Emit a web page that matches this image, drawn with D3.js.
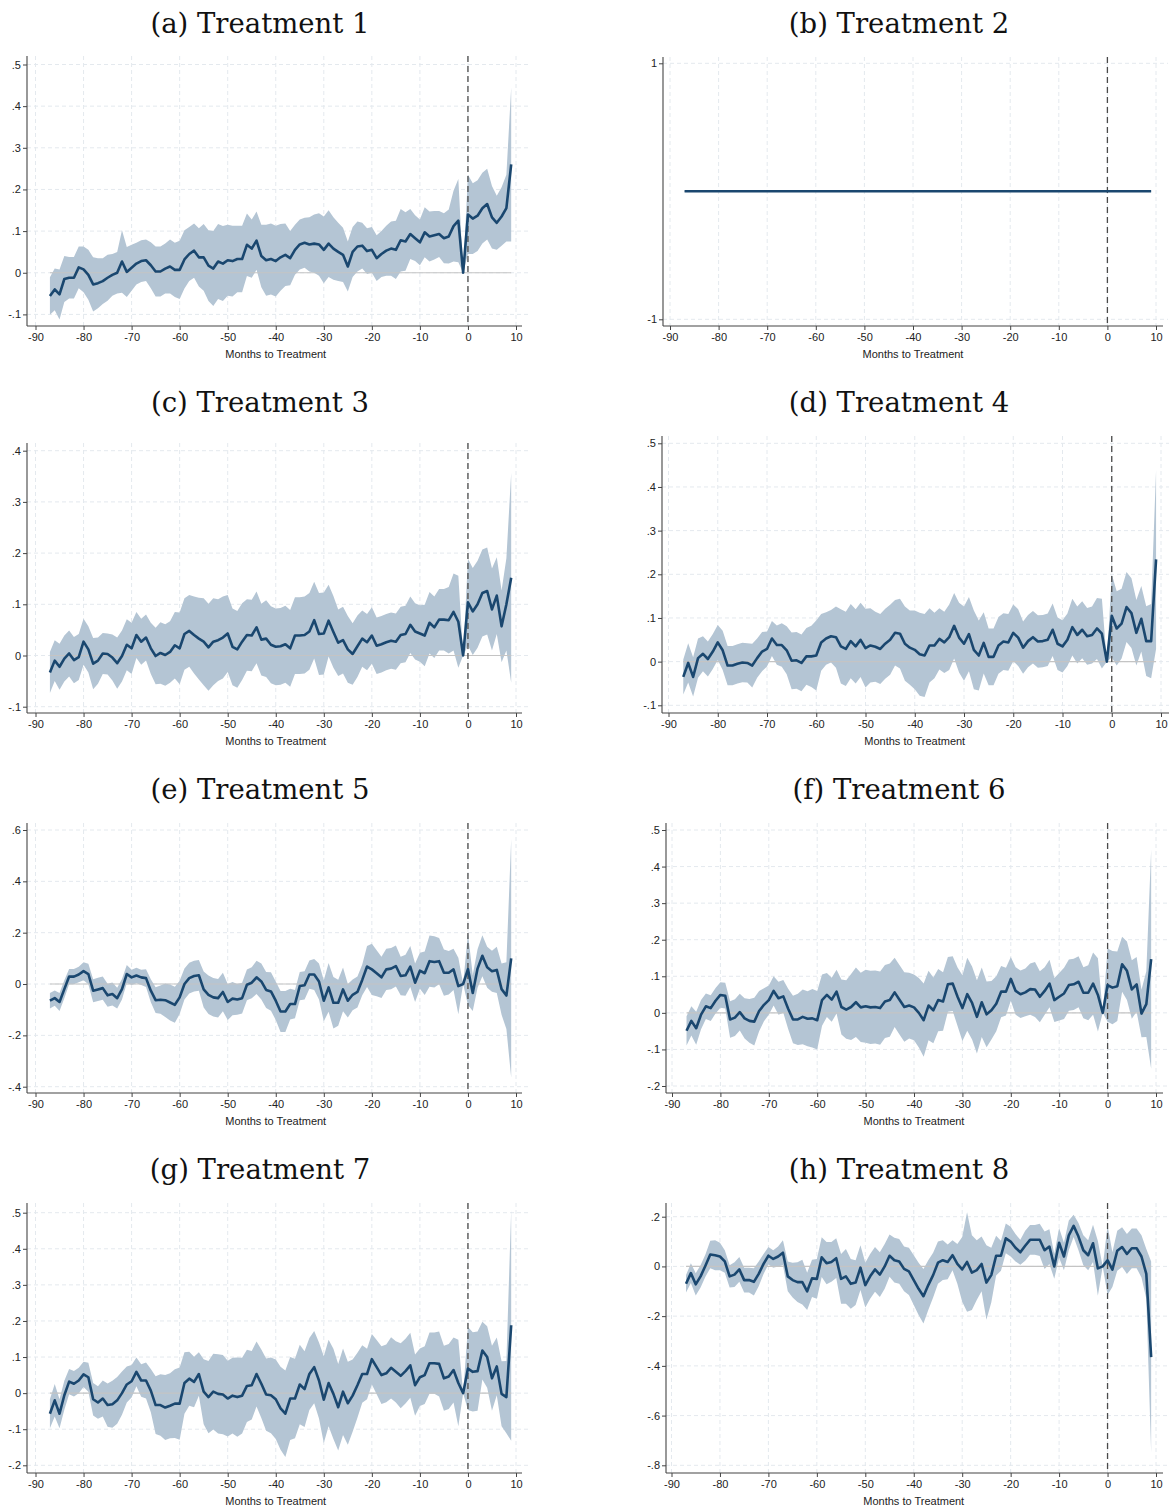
<!DOCTYPE html>
<html><head><meta charset="utf-8">
<script src="https://cdn.jsdelivr.net/npm/d3@7"></script>
<style>
html,body{margin:0;padding:0;background:#fff;}
svg text{font-family:"Liberation Sans",Arial,sans-serif;}
</style></head>
<body>
<svg id="chart" width="1169" height="1509"></svg>
<script>
// ---------- DATA ----------
const months = [-87,-86,-85,-84,-83,-82,-81,-80,-79,-78,-77,-76,-75,-74,-73,-72,-71,-70,-69,-68,
-67,-66,-65,-64,-63,-62,-61,-60,-59,-58,-57,-56,-55,-54,-53,-52,-51,-50,-49,-48,
-47,-46,-45,-44,-43,-42,-41,-40,-39,-38,-37,-36,-35,-34,-33,-32,-31,-30,-29,-28,
-27,-26,-25,-24,-23,-22,-21,-20,-19,-18,-17,-16,-15,-14,-13,-12,-11,-10,-9,-8,
-7,-6,-5,-4,-3,-2,-1,0,1,2,3,4,5,6,7,8,9];
const xTicks = [-90,-80,-70,-60,-50,-40,-30,-20,-10,0,10];
const xTitle = "Months to Treatment";
const titles = ["(a) Treatment 1","(b) Treatment 2","(c) Treatment 3","(d) Treatment 4",
                "(e) Treatment 5","(f) Treatment 6","(g) Treatment 7","(h) Treatment 8"];

const estA = [-0.056,-0.040,-0.052,-0.015,-0.012,-0.012,0.013,0.008,-0.005,-0.028,
-0.025,-0.020,-0.012,-0.005,0.000,0.027,0.002,0.012,0.022,0.028,
0.030,0.018,0.003,0.003,0.010,0.015,0.007,0.007,0.032,0.045,
0.053,0.037,0.037,0.017,0.010,0.027,0.022,0.030,0.028,0.033,
0.033,0.067,0.058,0.077,0.040,0.030,0.033,0.028,0.037,0.043,
0.035,0.055,0.068,0.072,0.068,0.070,0.068,0.055,0.070,0.058,
0.050,0.043,0.015,0.050,0.063,0.065,0.052,0.055,0.035,0.045,
0.053,0.058,0.055,0.078,0.075,0.093,0.083,0.073,0.097,0.087,
0.090,0.093,0.083,0.087,0.112,0.125,0.000,0.140,0.130,0.137,
0.155,0.165,0.133,0.120,0.135,0.155,0.260];
const ciA = [0.045,0.050,0.060,0.055,0.050,0.050,0.050,0.055,0.060,0.065,
0.060,0.055,0.055,0.050,0.050,0.075,0.060,0.055,0.050,0.050,
0.050,0.055,0.060,0.060,0.060,0.065,0.065,0.070,0.070,0.065,
0.065,0.070,0.080,0.085,0.090,0.090,0.090,0.085,0.085,0.080,
0.080,0.075,0.070,0.070,0.075,0.085,0.085,0.085,0.080,0.075,
0.065,0.060,0.060,0.060,0.065,0.070,0.075,0.080,0.080,0.075,
0.070,0.065,0.060,0.060,0.060,0.055,0.055,0.055,0.055,0.055,
0.060,0.065,0.070,0.075,0.070,0.060,0.055,0.055,0.060,0.060,
0.058,0.055,0.060,0.065,0.085,0.100,0.000,0.095,0.085,0.085,
0.085,0.085,0.075,0.065,0.070,0.080,0.185];

const estB = [0,0,0,0,0,0,0,0,0,0, 0,0,0,0,0,0,0,0,0,0, 0,0,0,0,0,0,0,0,0,0,
0,0,0,0,0,0,0,0,0,0, 0,0,0,0,0,0,0,0,0,0, 0,0,0,0,0,0,0,0,0,0,
0,0,0,0,0,0,0,0,0,0, 0,0,0,0,0,0,0,0,0,0, 0,0,0,0,0,0,0,0,0,0, 0,0,0,0,0,0,0];
const ciB = [0,0,0,0,0,0,0,0,0,0, 0,0,0,0,0,0,0,0,0,0, 0,0,0,0,0,0,0,0,0,0,
0,0,0,0,0,0,0,0,0,0, 0,0,0,0,0,0,0,0,0,0, 0,0,0,0,0,0,0,0,0,0,
0,0,0,0,0,0,0,0,0,0, 0,0,0,0,0,0,0,0,0,0, 0,0,0,0,0,0,0,0,0,0, 0,0,0,0,0,0,0];

const estC = [-0.033,-0.010,-0.022,-0.006,0.004,-0.009,-0.003,0.027,0.012,-0.016,
-0.010,0.004,0.003,-0.004,-0.015,-0.001,0.021,0.014,0.040,0.027,
0.035,0.014,-0.001,0.005,0.001,0.007,0.020,0.014,0.042,0.048,
0.040,0.033,0.027,0.016,0.027,0.030,0.035,0.043,0.017,0.012,
0.027,0.040,0.039,0.055,0.031,0.033,0.021,0.017,0.018,0.022,
0.014,0.039,0.039,0.040,0.047,0.069,0.042,0.043,0.068,0.046,
0.025,0.030,0.012,0.003,0.018,0.033,0.026,0.039,0.019,0.022,
0.026,0.029,0.027,0.040,0.042,0.060,0.047,0.043,0.039,0.064,
0.055,0.070,0.070,0.069,0.085,0.066,0.000,0.104,0.086,0.100,
0.122,0.126,0.090,0.117,0.057,0.100,0.152];
const ciC = [0.040,0.040,0.045,0.045,0.045,0.045,0.045,0.045,0.045,0.050,
0.045,0.040,0.040,0.045,0.050,0.050,0.050,0.050,0.045,0.045,
0.045,0.050,0.055,0.060,0.060,0.060,0.065,0.070,0.070,0.070,
0.075,0.080,0.085,0.085,0.085,0.080,0.080,0.075,0.075,0.075,
0.075,0.070,0.070,0.070,0.070,0.075,0.075,0.075,0.075,0.075,
0.075,0.075,0.075,0.075,0.075,0.075,0.080,0.080,0.070,0.070,
0.065,0.065,0.065,0.060,0.060,0.055,0.055,0.055,0.055,0.055,
0.055,0.055,0.055,0.055,0.055,0.055,0.055,0.055,0.060,0.060,
0.060,0.060,0.060,0.065,0.075,0.090,0.000,0.085,0.085,0.085,
0.085,0.085,0.080,0.075,0.070,0.090,0.205];

const estD = [-0.035,-0.003,-0.035,0.008,0.018,0.006,0.023,0.044,0.026,-0.009,
-0.009,-0.005,-0.002,-0.003,-0.009,0.008,0.023,0.029,0.053,0.038,
0.038,0.026,0.002,0.003,-0.003,0.012,0.012,0.014,0.044,0.053,
0.058,0.056,0.035,0.029,0.047,0.035,0.050,0.031,0.037,0.034,
0.029,0.041,0.050,0.066,0.064,0.041,0.032,0.027,0.017,0.014,
0.037,0.037,0.052,0.044,0.056,0.082,0.055,0.041,0.063,0.027,
0.014,0.043,0.011,0.011,0.037,0.046,0.044,0.066,0.055,0.032,
0.047,0.056,0.046,0.047,0.050,0.073,0.041,0.035,0.050,0.079,
0.061,0.073,0.058,0.061,0.076,0.064,0.000,0.105,0.076,0.087,
0.125,0.111,0.066,0.098,0.047,0.047,0.234];
const ciD = [0.040,0.045,0.045,0.045,0.040,0.040,0.040,0.040,0.045,0.045,
0.045,0.045,0.045,0.045,0.050,0.045,0.045,0.040,0.040,0.045,
0.050,0.055,0.065,0.065,0.065,0.065,0.070,0.080,0.065,0.060,
0.060,0.070,0.085,0.085,0.085,0.085,0.085,0.090,0.085,0.080,
0.080,0.080,0.080,0.075,0.080,0.085,0.085,0.090,0.095,0.095,
0.085,0.075,0.070,0.070,0.075,0.075,0.080,0.085,0.085,0.090,
0.080,0.070,0.065,0.065,0.065,0.065,0.065,0.065,0.065,0.060,
0.060,0.060,0.060,0.060,0.060,0.060,0.060,0.060,0.060,0.065,
0.065,0.065,0.065,0.065,0.070,0.080,0.000,0.095,0.085,0.080,
0.080,0.080,0.075,0.075,0.080,0.085,0.205];

const estE = [-0.065,-0.055,-0.070,-0.020,0.029,0.029,0.037,0.050,0.039,-0.026,
-0.021,-0.016,-0.044,-0.039,-0.055,-0.020,0.039,0.026,0.033,0.026,
0.023,-0.026,-0.063,-0.061,-0.063,-0.072,-0.081,-0.052,0.000,0.023,
0.031,0.034,-0.021,-0.042,-0.052,-0.055,-0.031,-0.070,-0.057,-0.060,
-0.055,-0.003,0.005,0.026,0.010,-0.023,-0.029,-0.065,-0.107,-0.107,
-0.078,-0.078,-0.008,-0.005,0.037,0.037,0.010,-0.065,-0.013,-0.073,
-0.073,-0.021,-0.065,-0.042,-0.031,0.016,0.068,0.057,0.042,0.026,
0.057,0.060,0.070,0.031,0.034,0.068,0.005,0.052,0.042,0.089,
0.086,0.089,0.044,0.044,0.057,-0.008,0.000,0.058,-0.035,0.060,
0.110,0.065,0.050,0.055,-0.020,-0.045,0.100];
const ciE = [0.030,0.030,0.035,0.035,0.030,0.030,0.030,0.035,0.040,0.045,
0.045,0.045,0.045,0.045,0.040,0.040,0.035,0.030,0.030,0.030,
0.035,0.045,0.050,0.055,0.065,0.070,0.070,0.065,0.060,0.060,
0.060,0.060,0.070,0.075,0.075,0.075,0.075,0.070,0.065,0.060,
0.060,0.060,0.060,0.065,0.070,0.070,0.075,0.075,0.080,0.080,
0.060,0.055,0.055,0.055,0.055,0.060,0.070,0.080,0.095,0.100,
0.090,0.085,0.065,0.060,0.060,0.060,0.080,0.100,0.090,0.080,
0.080,0.080,0.080,0.075,0.080,0.080,0.075,0.070,0.085,0.100,
0.100,0.090,0.090,0.085,0.080,0.110,0.000,0.140,0.070,0.075,
0.080,0.080,0.080,0.090,0.100,0.130,0.465];

const estF = [-0.049,-0.022,-0.042,-0.005,0.018,0.013,0.033,0.049,0.047,-0.018,
-0.013,0.002,-0.015,-0.022,-0.024,0.005,0.022,0.035,0.060,0.040,
0.045,0.011,-0.018,-0.018,-0.011,-0.016,-0.015,-0.020,0.035,0.049,
0.036,0.058,0.016,0.009,0.016,0.029,0.015,0.018,0.015,0.016,
0.013,0.031,0.035,0.056,0.036,0.016,0.020,0.015,0.000,-0.020,
0.020,0.007,0.035,0.031,0.078,0.080,0.044,0.013,0.051,0.027,
-0.011,0.029,-0.004,0.007,0.025,0.058,0.058,0.093,0.060,0.051,
0.056,0.065,0.064,0.044,0.060,0.080,0.035,0.044,0.053,0.076,
0.078,0.085,0.055,0.055,0.080,0.049,0.000,0.076,0.069,0.073,
0.133,0.115,0.064,0.078,-0.002,0.024,0.147];
const ciF = [0.040,0.040,0.045,0.040,0.035,0.035,0.035,0.035,0.035,0.050,
0.050,0.050,0.055,0.060,0.065,0.055,0.045,0.040,0.040,0.045,
0.045,0.055,0.065,0.070,0.075,0.075,0.080,0.080,0.070,0.060,
0.060,0.060,0.075,0.080,0.090,0.095,0.095,0.100,0.100,0.100,
0.100,0.100,0.100,0.095,0.095,0.095,0.090,0.090,0.095,0.100,
0.095,0.090,0.085,0.080,0.075,0.075,0.080,0.090,0.100,0.100,
0.100,0.095,0.090,0.080,0.075,0.070,0.065,0.060,0.065,0.065,
0.065,0.070,0.075,0.070,0.065,0.065,0.060,0.065,0.070,0.070,
0.070,0.070,0.070,0.075,0.085,0.100,0.000,0.100,0.100,0.095,
0.075,0.080,0.080,0.075,0.065,0.090,0.300];

const estG = [-0.057,-0.020,-0.057,-0.006,0.032,0.026,0.035,0.052,0.044,-0.017,
-0.026,-0.015,-0.033,-0.031,-0.020,0.000,0.024,0.033,0.059,0.035,
0.035,0.007,-0.033,-0.033,-0.040,-0.035,-0.029,-0.029,0.028,0.040,
0.031,0.053,0.004,-0.011,0.004,-0.002,-0.004,-0.015,-0.007,-0.011,
-0.007,0.020,0.022,0.053,0.026,-0.004,-0.006,-0.017,-0.042,-0.057,
-0.015,-0.015,0.024,0.011,0.053,0.072,0.035,-0.018,0.028,-0.002,
-0.039,0.004,-0.028,-0.007,0.022,0.053,0.053,0.094,0.072,0.050,
0.055,0.070,0.059,0.048,0.061,0.077,0.022,0.044,0.050,0.083,
0.083,0.081,0.041,0.046,0.064,0.028,0.000,0.068,0.059,0.061,
0.118,0.100,0.041,0.074,-0.002,-0.011,0.188];
const ciG = [0.040,0.045,0.040,0.040,0.035,0.035,0.035,0.035,0.040,0.045,
0.045,0.050,0.060,0.065,0.065,0.060,0.050,0.045,0.040,0.045,
0.050,0.060,0.080,0.085,0.090,0.090,0.095,0.100,0.085,0.075,
0.070,0.060,0.090,0.100,0.105,0.110,0.110,0.105,0.105,0.110,
0.105,0.100,0.095,0.090,0.095,0.100,0.105,0.110,0.115,0.120,
0.115,0.110,0.110,0.105,0.100,0.100,0.105,0.120,0.120,0.125,
0.120,0.120,0.115,0.100,0.090,0.080,0.070,0.070,0.075,0.080,
0.080,0.085,0.085,0.090,0.090,0.090,0.085,0.080,0.080,0.085,
0.085,0.090,0.090,0.090,0.090,0.120,0.000,0.115,0.110,0.110,
0.080,0.085,0.090,0.080,0.090,0.100,0.320];

const estH = [-0.070,-0.027,-0.072,-0.040,0.003,0.048,0.045,0.040,0.020,-0.040,
-0.033,-0.012,-0.055,-0.055,-0.062,-0.030,0.010,0.043,0.030,0.040,
0.055,-0.040,-0.055,-0.063,-0.063,-0.100,-0.048,-0.050,0.037,0.013,
0.018,0.033,-0.050,-0.040,-0.070,-0.065,-0.005,-0.075,-0.040,-0.012,
-0.033,0.000,0.043,0.025,0.020,-0.010,-0.020,-0.055,-0.090,-0.120,
-0.075,-0.035,0.015,0.025,0.018,0.045,0.010,-0.012,0.018,-0.025,
-0.015,0.010,-0.065,-0.035,0.043,0.043,0.113,0.100,0.075,0.057,
0.083,0.107,0.107,0.107,0.065,0.080,0.000,0.095,0.040,0.125,
0.163,0.120,0.065,0.045,0.093,-0.008,0.000,0.025,-0.013,0.063,
0.078,0.050,0.073,0.073,0.040,-0.030,-0.365];
const ciH = [0.035,0.040,0.045,0.045,0.045,0.055,0.060,0.055,0.045,0.045,
0.050,0.050,0.050,0.050,0.055,0.050,0.040,0.035,0.035,0.040,
0.050,0.060,0.070,0.080,0.090,0.075,0.075,0.080,0.080,0.085,
0.080,0.080,0.100,0.110,0.100,0.090,0.090,0.090,0.090,0.090,
0.090,0.090,0.085,0.090,0.090,0.090,0.095,0.100,0.105,0.110,
0.100,0.090,0.085,0.080,0.070,0.060,0.080,0.130,0.200,0.150,
0.120,0.110,0.150,0.110,0.080,0.060,0.060,0.060,0.055,0.050,
0.060,0.060,0.060,0.065,0.075,0.070,0.050,0.060,0.055,0.060,
0.045,0.055,0.060,0.060,0.075,0.110,0.000,0.140,0.070,0.080,
0.080,0.080,0.080,0.080,0.085,0.100,0.385];

const yTicksA = [-0.1,0,0.1,0.2,0.3,0.4,0.5];
const yTicksB = [-1,1];
const yTicksC = [-0.1,0,0.1,0.2,0.3,0.4];
const yTicksD = [-0.1,0,0.1,0.2,0.3,0.4,0.5];
const yTicksE = [-0.4,-0.2,0,0.2,0.4,0.6];
const yTicksF = [-0.2,-0.1,0,0.1,0.2,0.3,0.4,0.5];
const yTicksG = [-0.2,-0.1,0,0.1,0.2,0.3,0.4,0.5];
const yTicksH = [-0.8,-0.6,-0.4,-0.2,0,0.2];

// ---------- LAYOUT ----------
const layout = [
 {axisX:27,  top:56,   axisY:326,  right:522,  gridR:529,  xr:[35.5,516],  yd:[-0.1,0.5], yr:[314.4,64.5],   tx:260, ty:33},
 {axisX:663, top:57,   axisY:326,  right:1163, gridR:1168, xr:[670,1156],  yd:[-1,1],     yr:[319.3,63.3],   tx:899, ty:33},
 {axisX:27,  top:443,  axisY:713,  right:522,  gridR:529,  xr:[35.5,516],  yd:[-0.1,0.4], yr:[706.7,450.7],  tx:260, ty:412},
 {axisX:662, top:436,  axisY:713,  right:1169, gridR:1169, xr:[668.5,1161],yd:[-0.1,0.5], yr:[705.3,443.3],  tx:899, ty:412},
 {axisX:27,  top:823,  axisY:1093, right:522,  gridR:529,  xr:[35.5,516],  yd:[-0.4,0.6], yr:[1086.7,830],   tx:260, ty:799},
 {axisX:666, top:823,  axisY:1093, right:1163, gridR:1168, xr:[672,1156],  yd:[-0.2,0.5], yr:[1086,830],     tx:899, ty:799},
 {axisX:27,  top:1203, axisY:1473, right:522,  gridR:529,  xr:[35.5,516],  yd:[-0.2,0.5], yr:[1465.3,1212.7],tx:260, ty:1179},
 {axisX:666, top:1203, axisY:1473, right:1163, gridR:1168, xr:[671.5,1156],yd:[-0.8,0.2], yr:[1465.3,1216.7],tx:899, ty:1179}
];
const series = [
 {est:estA, ci:ciA, yt:yTicksA},{est:estB, ci:ciB, yt:yTicksB},
 {est:estC, ci:ciC, yt:yTicksC},{est:estD, ci:ciD, yt:yTicksD},
 {est:estE, ci:ciE, yt:yTicksE},{est:estF, ci:ciF, yt:yTicksF},
 {est:estG, ci:ciG, yt:yTicksG},{est:estH, ci:ciH, yt:yTicksH}
];

const fmt = v => v === 0 ? "0" : String(+v.toFixed(2)).replace("0.", ".");
const svg = d3.select("#chart");

series.forEach((s, i) => {
  const L = layout[i];
  const x = d3.scaleLinear().domain([-90, 10]).range(L.xr);
  const y = d3.scaleLinear().domain(L.yd).range(L.yr);
  const g = svg.append("g");
  const rows = months.map((m, k) => ({m, e: s.est[k], lo: s.est[k] - s.ci[k], hi: s.est[k] + s.ci[k]}));

  // title
  svg.append("text").attr("x", L.tx).attr("y", L.ty).attr("text-anchor", "middle")
    .style("font-family", "'DejaVu Serif', 'Liberation Serif', serif").style("font-size", "27.5px")
    .attr("fill", "#111").text(titles[i]);

  // grid
  g.selectAll(".vg").data(xTicks).join("line")
    .attr("x1", d => x(d)).attr("x2", d => x(d)).attr("y1", L.top).attr("y2", L.axisY)
    .attr("stroke", "#e4e9ee").attr("stroke-width", 1).attr("stroke-dasharray", "4,3");
  g.selectAll(".hg").data(s.yt).join("line")
    .attr("x1", L.axisX).attr("x2", L.gridR).attr("y1", d => y(d)).attr("y2", d => y(d))
    .attr("stroke", "#e4e9ee").attr("stroke-width", 1).attr("stroke-dasharray", "4,3");

  // CI band
  g.append("path").datum(rows)
    .attr("d", d3.area().x(d => x(d.m)).y0(d => y(d.lo)).y1(d => y(d.hi)))
    .attr("fill", "#b4c5d4");

  // zero reference line
  g.append("line").attr("x1", x(months[0])).attr("x2", x(months[months.length - 1]))
    .attr("y1", y(0)).attr("y2", y(0)).attr("stroke", "#c4c4c4").attr("stroke-width", 1.2);

  // vertical dashed line at 0
  g.append("line").attr("x1", x(0)).attr("x2", x(0)).attr("y1", L.top).attr("y2", L.axisY)
    .attr("stroke", "#4a4a4a").attr("stroke-width", 1.3).attr("stroke-dasharray", "6,4");

  // estimate line
  g.append("path").datum(rows)
    .attr("d", d3.line().x(d => x(d.m)).y(d => y(d.e)))
    .attr("fill", "none").attr("stroke", "#1a476f").attr("stroke-width", 2.6)
    .attr("stroke-linejoin", "round");

  // axes
  const ya = g.append("g").attr("transform", `translate(${L.axisX},0)`)
    .call(d3.axisLeft(y).tickValues(s.yt).tickFormat(fmt).tickSize(4).tickSizeOuter(0).tickPadding(2));
  const xa = g.append("g").attr("transform", `translate(0,${L.axisY})`)
    .call(d3.axisBottom(x).tickValues(xTicks).tickFormat(d => String(d)).tickSize(4).tickSizeOuter(0).tickPadding(3));
  [ya, xa].forEach(a => {
    a.select(".domain").remove();
    a.selectAll(".tick line").attr("stroke", "#444");
    a.selectAll(".tick text").attr("fill", "#222").style("font-size", "11px")
      .style("font-family", "'Liberation Sans', Arial, sans-serif");
  });
  g.append("line").attr("x1", L.axisX).attr("x2", L.axisX).attr("y1", L.top).attr("y2", L.axisY)
    .attr("stroke", "#444").attr("stroke-width", 1.1);
  g.append("line").attr("x1", L.axisX).attr("x2", L.right).attr("y1", L.axisY).attr("y2", L.axisY)
    .attr("stroke", "#444").attr("stroke-width", 1.1);

  g.append("text").attr("x", (L.xr[0] + L.xr[1]) / 2).attr("y", L.axisY + 32)
    .attr("text-anchor", "middle").attr("fill", "#222")
    .style("font-size", "11px").text(xTitle);
});
</script>
</body></html>
